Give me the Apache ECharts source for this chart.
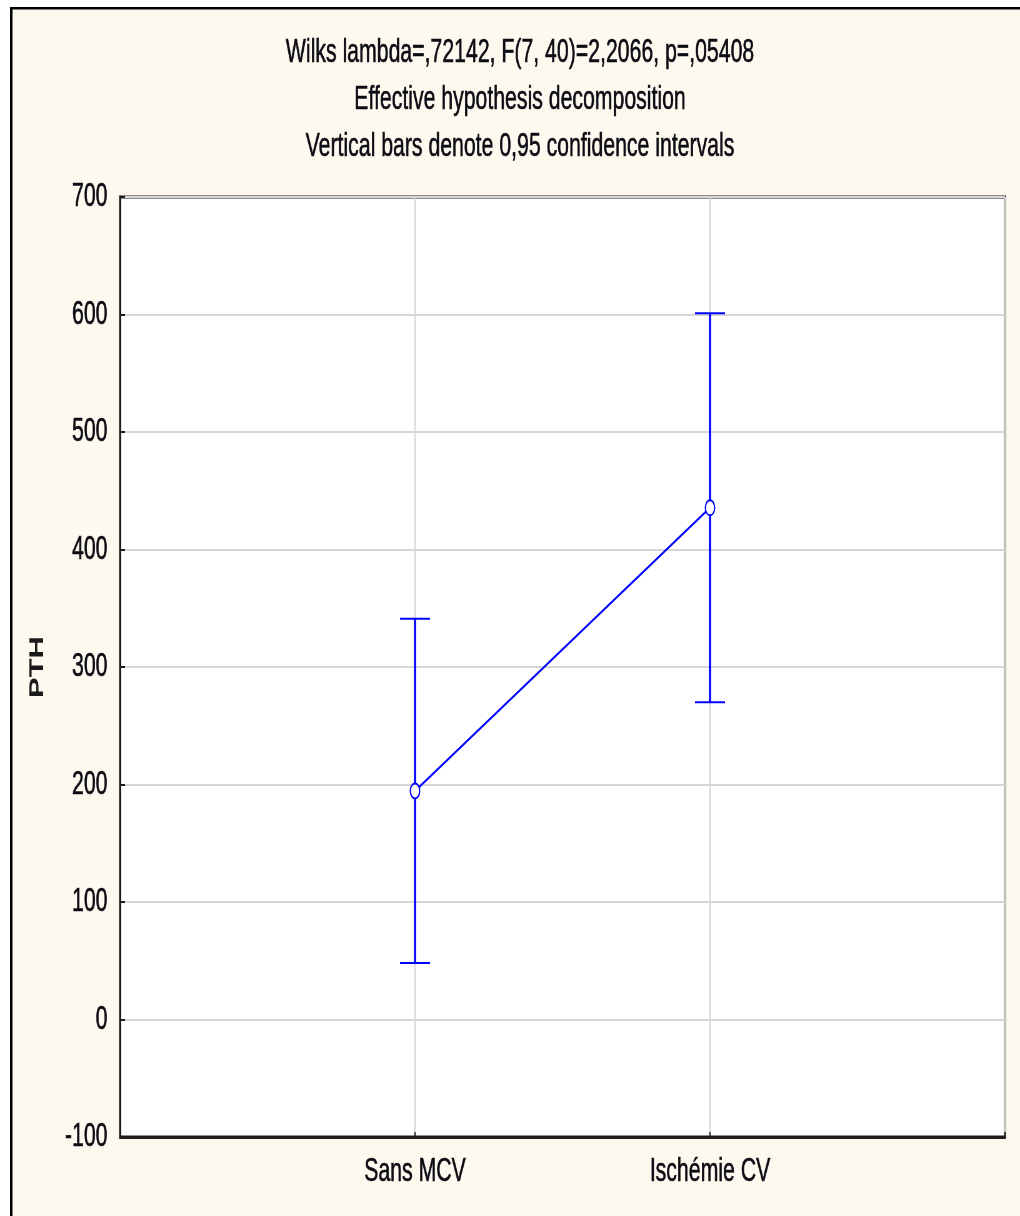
<!DOCTYPE html>
<html>
<head>
<meta charset="utf-8">
<script src="https://cdn.jsdelivr.net/npm/echarts@6/dist/echarts.min.js"></script>
<style>
  html, body { margin: 0; padding: 0; background: #ffffff; overflow: hidden; }
  /* The figure is laid out on a wider canvas and narrowed horizontally,
     giving the tall, condensed lettering of the original STATISTICA plot. */
  #chart { width: 1632px; height: 1216px; transform: scaleX(0.625); transform-origin: 0 0; }
</style>
</head>
<body>
<div id="chart"></div>
<script>
// Group labels along the x axis
const categories = ['Sans MCV', 'Ischémie CV'];
// Mean PTH per group
const means = [194.5, 435.5];
// 95% confidence limits
const ciLow = [48, 270];
const ciHigh = [341, 601];
// Y axis ticks
const yTicks = [-100, 0, 100, 200, 300, 400, 500, 600, 700];
// Header lines
const titleLines = [
  'Wilks lambda=,72142, F(7, 40)=2,2066, p=,05408',
  'Effective hypothesis decomposition',
  'Vertical bars denote 0,95 confidence intervals'
];

const FONT = '"Liberation Sans", Arial, sans-serif';
const BLUE = '#0000ff';
const TEXT = '#0c0c14';
const CREAM = '#fef9ee';

const chart = echarts.init(document.getElementById('chart'), null, { renderer: 'canvas' });

// groups sit at x = 1, 2 on a 0..3 value axis
const meanPoints = means.map((m, i) => [i + 1, m]);
const ciData = categories.map((c, i) => [i + 1, ciLow[i], ciHigh[i]]);

chart.setOption({
  backgroundColor: '#ffffff',
  animation: false,
  graphic: [
    // frame of the figure panel
    { type: 'rect', z: -10, silent: true, shape: { x: 16, y: 7, width: 1700, height: 1300 }, style: { fill: '#000000' } },
    { type: 'rect', z: -9, silent: true, shape: { x: 20, y: 9.5, width: 1700, height: 1300 }, style: { fill: CREAM } }
  ],
  title: {
    text: titleLines.join('\n'),
    left: 832,
    top: 29,
    textAlign: 'center',
    padding: 0,
    textStyle: { fontFamily: FONT, fontSize: 34, fontWeight: 'normal', color: TEXT, lineHeight: 47,
                 textBorderColor: TEXT, textBorderWidth: 0.6 }
  },
  grid: {
    left: 192, right: 24, top: 197, bottom: 79,
    show: true, backgroundColor: '#ffffff', borderColor: '#1e1e1e', borderWidth: 3
  },
  xAxis: {
    type: 'value', min: 0, max: 3, interval: 1,
    axisLine: { show: true, onZero: false, lineStyle: { color: '#1e1e1e', width: 3 } },
    axisTick: { show: true, inside: true, length: 5, lineStyle: { color: '#1e1e1e', width: 2 } },
    splitLine: { show: true, lineStyle: { color: '#d6d6d6', width: 2 } },
    axisLabel: {
      margin: 18, fontFamily: FONT, fontSize: 34, lineHeight: 34, color: TEXT,
      textBorderColor: TEXT, textBorderWidth: 0.6,
      formatter: v => (v >= 1 && v <= categories.length && Number.isInteger(v)) ? categories[v - 1] : ''
    }
  },
  yAxis: {
    type: 'value', min: yTicks[0], max: yTicks[yTicks.length - 1], interval: 100,
    name: 'PTH', nameLocation: 'middle', nameGap: 116,
    nameTextStyle: { fontFamily: FONT, fontSize: 31, fontWeight: 'bold', color: '#1a1a1a' },
    axisLine: { show: true, lineStyle: { color: '#1e1e1e', width: 3 } },
    axisTick: { show: true, inside: true, length: 8, lineStyle: { color: '#1e1e1e', width: 2 } },
    splitLine: { show: true, lineStyle: { color: '#d6d6d6', width: 2 } },
    axisLabel: { margin: 20, fontFamily: FONT, fontSize: 34, color: TEXT,
                 textBorderColor: TEXT, textBorderWidth: 0.6 }
  },
  series: [
    {
      type: 'custom',
      name: 'CI',
      data: ciData,
      z: 3,
      renderItem: function (params, api) {
        const x = api.value(0);
        const lo = api.coord([x, api.value(1)]);
        const hi = api.coord([x, api.value(2)]);
        const half = 24;
        return {
          type: 'group',
          children: [
            { type: 'line', shape: { x1: lo[0], y1: lo[1], x2: hi[0], y2: hi[1] }, style: { stroke: BLUE, lineWidth: 3.5 } },
            { type: 'line', shape: { x1: hi[0] - half, y1: hi[1], x2: hi[0] + half, y2: hi[1] }, style: { stroke: BLUE, lineWidth: 2 } },
            { type: 'line', shape: { x1: lo[0] - half, y1: lo[1], x2: lo[0] + half, y2: lo[1] }, style: { stroke: BLUE, lineWidth: 2 } }
          ]
        };
      }
    },
    {
      type: 'line',
      name: 'PTH',
      data: meanPoints,
      z: 4,
      symbol: 'emptyCircle',
      symbolSize: 15,
      lineStyle: { color: BLUE, width: 2.5 },
      itemStyle: { color: BLUE, borderColor: BLUE, borderWidth: 3 }
    }
  ]
});
</script>
</body>
</html>
